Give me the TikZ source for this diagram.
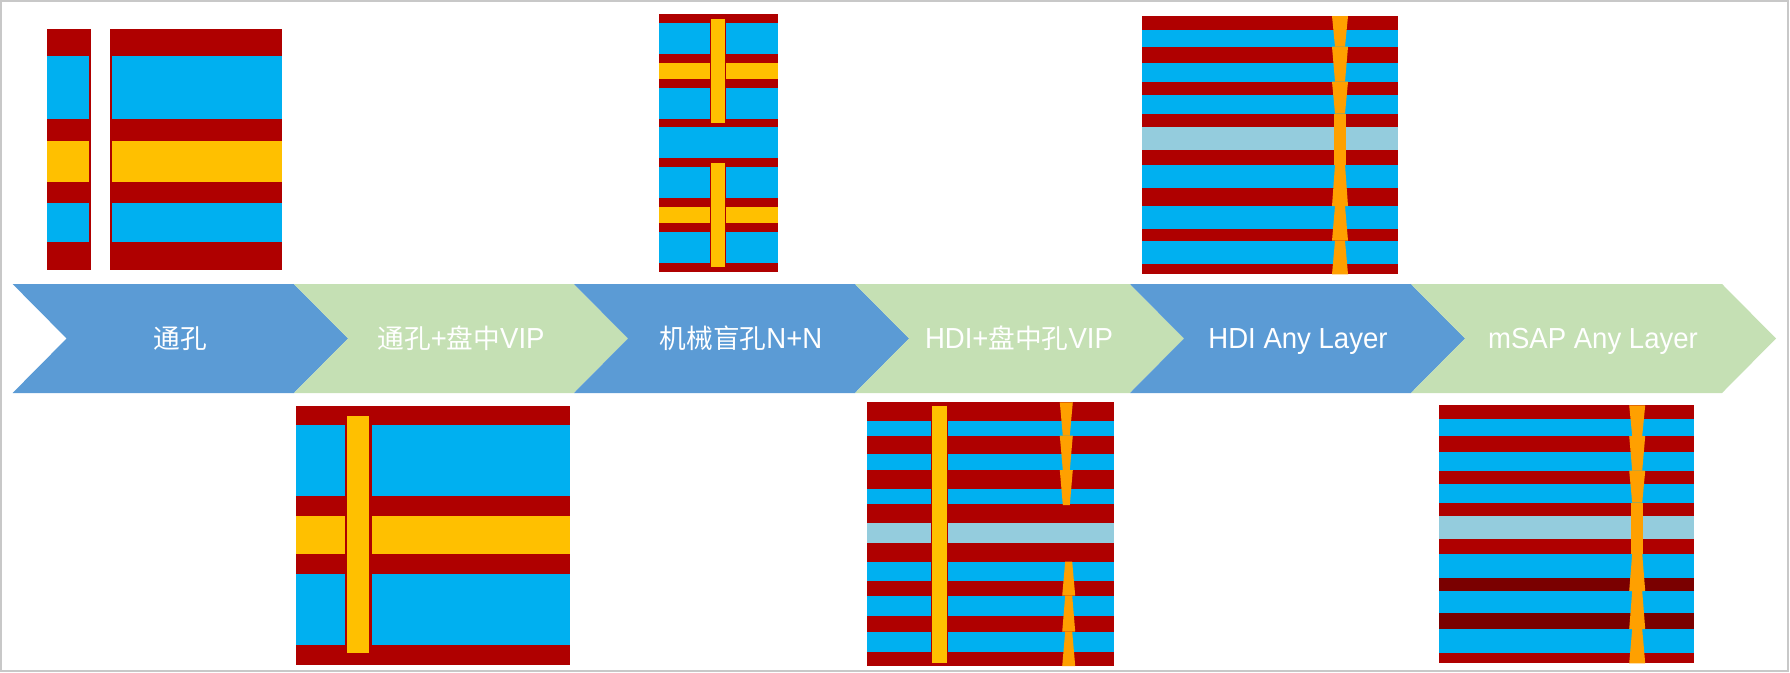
\documentclass[tikz,border=0pt]{standalone}
\usepackage{fontspec}
\setmainfont{Liberation Sans}[FakeStretch=0.95]
\newfontfamily\cjk{Noto Sans CJK SC}[Scale=0.92]
\newcommand{\zh}[1]{{\cjk #1}}
\definecolor{chevblue}{RGB}{91,155,213}
\definecolor{chevgreen}{RGB}{197,224,180}
\definecolor{cured}{RGB}{175,0,0}
\definecolor{ppcyan}{RGB}{0,176,240}
\definecolor{coreyellow}{RGB}{255,192,0}
\definecolor{corelight}{RGB}{148,204,221}
\definecolor{viaorange}{RGB}{255,160,0}
\definecolor{framegray}{RGB}{200,200,200}

\begin{document}
\begin{tikzpicture}[x=1pt,y=-1pt,
    copper/.style={fill=cured},
    prepreg/.style={fill=ppcyan},
    core/.style={fill=coreyellow},
    lightcore/.style={fill=corelight},
    laservia/.style={fill=viaorange},
    lbl/.style={anchor=base,text=white,inner sep=0,font=\fontsize{29}{34}\selectfont}]
  \useasboundingbox (0,0) rectangle (1790,672);
  \draw[framegray,line width=1.5] (1,1) rectangle (1788,671);

  % process chevrons
  \foreach \xa/\xb/\c in {12.6/294/chevblue,294/574/chevgreen,574/855/chevblue,
                          855/1130/chevgreen,1130/1411/chevblue,1411/1722/chevgreen}
    \fill[\c] (\xa,284) -- (\xb,284) -- (\xb+54,338.5) -- (\xb,393)
              -- (\xa,393) -- (\xa+54,338.5) -- cycle;
  \node[lbl] (thru)   at (180,348.3)  {\zh{通孔}};
  \node[lbl] (thruvip) at (461,348.3) {\zh{通孔}+\zh{盘中}VIP};
  \node[lbl] (blind)  at (741,348.3)  {\zh{机械盲孔}N+N};
  \node[lbl] (hdivip) at (1019,348.3) {HDI+\zh{盘中孔}VIP};
  \node[lbl] (hdiany) at (1298,348.3) {HDI Any Layer};
  \node[lbl] (msap)   at (1593,348.3) {mSAP Any Layer};

  % through hole
  \fill[copper] (46.7,29.3) rectangle (91,270);
  \fill[copper] (110,29.3) rectangle (282,270);
  \foreach \ya/\yb/\c in {56/119.3/prepreg,141.3/181.7/core,203.3/241.7/prepreg}{
    \fill[\c] (46.7,\ya) rectangle (89,\yb);
    \fill[\c] (112,\ya) rectangle (282,\yb);}

  % through hole + via in pad
  \fill[copper] (296,405.7) rectangle (570,665);
  \foreach \ya/\yb/\c in {425/496/prepreg,516/553.7/core,574/645/prepreg}
    \fill[\c] (296,\ya) rectangle (570,\yb);
  \fill[copper] (345,416) rectangle (371.8,653.3);
  \fill[core] (347,416) rectangle (369.2,653.3);

  % mechanical blind vias N+N
  \fill[copper] (659.3,14) rectangle (778,271.7);
  \foreach \ya/\yb/\c in {22.7/54/prepreg,62.7/79.3/core,87.7/119/prepreg,127.3/158.3/prepreg,
                          166.7/198.3/prepreg,206.7/223.3/core,232.3/263.3/prepreg}
    \fill[\c] (659.3,\ya) rectangle (778,\yb);
  \foreach \ya/\yb in {19/122.7,163/266.7}{
    \fill[copper] (710.2,\ya) rectangle (726.3,\yb);
    \fill[core] (711.4,\ya) rectangle (725.1,\yb);}

  % HDI + via in pad
  \fill[copper] (866.7,402.3) rectangle (1114.3,666);
  \foreach \ya/\yb/\c in {421/435.7/prepreg,454/470/prepreg,488.7/504.3/prepreg,523.3/542.7/lightcore,
                          561.7/580.7/prepreg,595.7/615.7/prepreg,631.7/651.7/prepreg}
    \fill[\c] (866.7,\ya) rectangle (1114.3,\yb);
  \fill[copper] (930.7,406) rectangle (948.3,662.7);
  \fill[core] (931.7,406) rectangle (947.3,662.7);
  \foreach \ya/\yb in {402.3/435.7,435.7/470,470/505}
    \fill[laservia] (1059.8,\ya) -- (1072.8,\ya) -- (1069.8,\yb) -- (1062.8,\yb) -- cycle;
  \foreach \ya/\yb in {561.7/595.7,595.7/631.7,631.7/666}
    \fill[laservia] (1065.2,\ya) -- (1072.2,\ya) -- (1075.2,\yb) -- (1062.2,\yb) -- cycle;

  % HDI any layer
  \fill[copper] (1141.8,16) rectangle (1397.5,274.3);
  \foreach \ya/\yb/\c in {30/46.7/prepreg,62.7/81.7/prepreg,95/113.7/prepreg,127/150/lightcore,
                          164.7/187.7/prepreg,206/229/prepreg,240.7/263.7/prepreg}
    \fill[\c] (1141.8,\ya) rectangle (1397.5,\yb);
  \foreach \ya/\yb in {16/46.7,46.7/81.7,81.7/113.7}
    \fill[laservia] (1332,\ya) -- (1348,\ya) -- (1345,\yb) -- (1335,\yb) -- cycle;
  \fill[laservia] (1334,113.7) rectangle (1346,164.7);
  \foreach \ya/\yb in {164.7/206,206/240.7,240.7/274.3}
    \fill[laservia] (1335,\ya) -- (1345,\ya) -- (1348,\yb) -- (1332,\yb) -- cycle;

  % mSAP any layer
  \fill[copper] (1439,405.3) rectangle (1694.3,663.3);
  \foreach \ya/\yb/\c in {419/436/prepreg,452/470.7/prepreg,484.3/502.7/prepreg,516/539/lightcore,
                          553.7/577.7/prepreg,591/613.3/prepreg,629/653/prepreg}
    \fill[\c] (1439,\ya) rectangle (1694.3,\yb);
  \foreach \ya/\yb in {577.7/591,613.3/629}
    \fill[cured!70!black] (1439,\ya) rectangle (1694.3,\yb);
  \foreach \ya/\yb in {405.3/436,436/470.7,470.7/502.7}
    \fill[laservia] (1629.2,\ya) -- (1645.2,\ya) -- (1642.2,\yb) -- (1632.2,\yb) -- cycle;
  \fill[laservia] (1631.2,502.7) rectangle (1643.2,553.7);
  \foreach \ya/\yb in {553.7/591,591/629,629/663.3}
    \fill[laservia] (1632.2,\ya) -- (1642.2,\ya) -- (1645.2,\yb) -- (1629.2,\yb) -- cycle;
\end{tikzpicture}
\end{document}
